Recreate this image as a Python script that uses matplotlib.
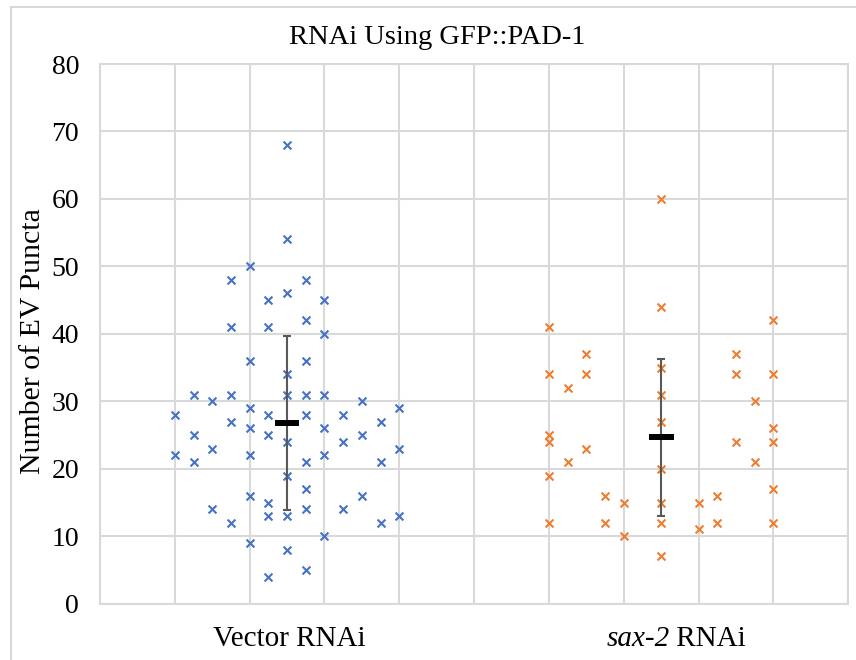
import numpy as np
import matplotlib
matplotlib.use("Agg")
import matplotlib.pyplot as plt
from matplotlib.patches import Rectangle
from matplotlib.transforms import blended_transform_factory

plt.rcParams['font.family'] = ['Liberation Serif', 'DejaVu Serif']

title = "RNAi Using GFP::PAD-1"
ylabel = "Number of EV Puncta"
# each category label: (italic part, upright part)
categories = [("", "Vector RNAi"), ("sax-2", " RNAi")]
category_x = [2.5, 7.5]

# Vector RNAi: x-position -> values
vector_x = [1, 1,
            1.25, 1.25, 1.25,
            1.5, 1.5, 1.5,
            1.75, 1.75, 1.75, 1.75, 1.75,
            2, 2, 2, 2, 2, 2, 2,
            2.25, 2.25, 2.25, 2.25, 2.25, 2.25, 2.25,
            2.5, 2.5, 2.5, 2.5, 2.5, 2.5, 2.5, 2.5, 2.5,
            2.75, 2.75, 2.75, 2.75, 2.75, 2.75, 2.75, 2.75, 2.75,
            3, 3, 3, 3, 3, 3,
            3.25, 3.25, 3.25,
            3.5, 3.5, 3.5,
            3.75, 3.75, 3.75,
            4, 4, 4]
vector_y = [28, 22,
            31, 25, 21,
            30, 23, 14,
            48, 41, 31, 27, 12,
            50, 36, 29, 26, 22, 16, 9,
            45, 41, 28, 25, 15, 13, 4,
            68, 54, 46, 34, 31, 24, 19, 13, 8,
            48, 42, 36, 31, 28, 21, 17, 14, 5,
            45, 40, 31, 26, 22, 10,
            28, 24, 14,
            30, 25, 16,
            27, 21, 12,
            29, 23, 13]

sax2_x = [6, 6, 6, 6, 6, 6,
          6.25, 6.25,
          6.5, 6.5, 6.5,
          6.75, 6.75,
          7, 7,
          7.5, 7.5, 7.5, 7.5, 7.5, 7.5, 7.5, 7.5, 7.5,
          8, 8,
          8.25, 8.25,
          8.5, 8.5, 8.5,
          8.75, 8.75,
          9, 9, 9, 9, 9, 9]
sax2_y = [41, 34, 25, 24, 19, 12,
          32, 21,
          37, 34, 23,
          16, 12,
          15, 10,
          60, 44, 35, 31, 27, 20, 15, 12, 7,
          15, 11,
          16, 12,
          37, 34, 24,
          30, 21,
          42, 34, 26, 24, 17, 12]

blue = "#4472C4"
orange = "#ED7D31"

fig = plt.figure(figsize=(8.56, 6.6), dpi=100)
ax = fig.add_axes([100/856, 1-603.7/660, 748.3/856, (603.7-64)/660])

# outer chart border
fig.patches.append(Rectangle((10.5/856, -0.05), 1.2, 1-6.5/660+0.05, transform=fig.transFigure,
                             fill=False, edgecolor="#D9D9D9", linewidth=1.5, zorder=0))

ax.scatter(vector_x, vector_y, marker='x', s=32, color=blue, linewidths=1.5, zorder=3)
ax.scatter(sax2_x, sax2_y, marker='x', s=32, color=orange, linewidths=1.5, zorder=3)

for cx, ys in zip(category_x, [vector_y, sax2_y]):
    m = np.mean(ys)
    sd = np.std(ys, ddof=1)
    ax.errorbar([cx], [m], yerr=[sd], fmt='none', ecolor="#595959", elinewidth=1.5,
                capsize=3, capthick=1.5, zorder=4)
    ax.plot([cx - 0.165, cx + 0.165], [m, m], color='black', linewidth=4.3,
            solid_capstyle='butt', zorder=5)

ax.set_xlim(0, 10)
ax.set_ylim(0, 80)
ax.set_xticks(np.arange(0, 11, 1))
ax.set_yticks(np.arange(0, 81, 10))
ax.grid(True, color="#D9D9D9", linewidth=1.5)
ax.set_axisbelow(True)
for s in ax.spines.values():
    s.set_color("#D9D9D9")
    s.set_linewidth(1.5)
ax.tick_params(axis='both', length=0, labelsize=20)
ax.tick_params(axis='y', pad=15)
ax.set_xticklabels([])

# category labels under the axis (italic gene name + upright text)
renderer = fig.canvas.get_renderer()
label_x = [2.526, 7.70]
label_y_px = 660 - 646
for lx, (it_part, rm_part) in zip(label_x, categories):
    cx_px = ax.transData.transform((lx, 0))[0]
    t_it = fig.text(0, 0, it_part, style='italic', fontsize=21, va='baseline', ha='left')
    t_rm = fig.text(0, 0, rm_part, fontsize=21, va='baseline', ha='left')
    w_it = t_it.get_window_extent(renderer).width if it_part else 0.0
    w_rm = t_rm.get_window_extent(renderer).width
    x0 = cx_px - (w_it + w_rm) / 2
    t_it.set_position((x0 / 856, label_y_px / 660))
    t_rm.set_position(((x0 + w_it) / 856, label_y_px / 660))

fig.text(33/856, 1 - 341/660, ylabel, rotation=90, ha='center', va='center', fontsize=21.5)
fig.text(437.5/856, 1 - 43.5/660, title, ha='center', va='baseline', fontsize=20.5)

fig.savefig("out.png", dpi=100)
